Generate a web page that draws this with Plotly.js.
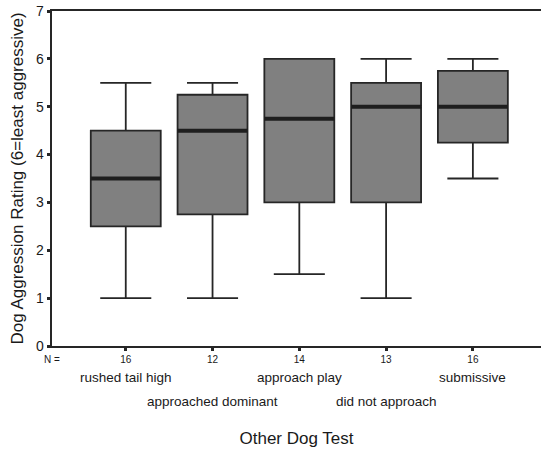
<!DOCTYPE html>
<html><head><meta charset="utf-8">
<script src="https://cdn.plot.ly/plotly-3.0.1.min.js"></script>
<style>html,body{margin:0;padding:0;background:#fff;}#chart{width:541px;height:456px;}</style>
</head><body><div id="chart"></div>
<script>
const categories = ["rushed tail high","approached dominant","approach play","did not approach","submissive"];
const nValues = [16, 12, 14, 13, 16];
const lowerWhisker = [1, 1, 1.5, 1, 3.5];
const q1 = [2.5, 2.75, 3, 3, 4.25];
const median = [3.5, 4.5, 4.75, 5, 5];
const q3 = [4.5, 5.25, 6, 5.5, 5.75];
const upperWhisker = [5.5, 5.5, 6, 6, 6];
const yTicks = [0,1,2,3,4,5,6,7];

const xs = categories.map((c,i)=>i);
const boxW = 0.806;
const ink = '#262626';

const boxTrace = {
  type: 'box', x: xs, q1: q1, median: median, q3: q3,
  lowerfence: lowerWhisker, upperfence: upperWhisker,
  width: boxW, whiskerwidth: 0.73,
  fillcolor: '#808080', line: {color: ink, width: 1.8},
  boxpoints: false, hoverinfo: 'skip', showlegend: false
};
const mx = [], my = [];
xs.forEach((x,i)=>{ mx.push(x-boxW/2, x+boxW/2, null); my.push(median[i], median[i], null); });
const medTrace = {type:'scatter', mode:'lines', x: mx, y: my, line:{color:'#1e1e1e', width:4}, showlegend:false, hoverinfo:'skip'};

const font = 'Liberation Sans, Arial, sans-serif';
const annotations = categories.map((c,i)=>({
  text: c, x: i, xref: 'x', y: i%2===0 ? -0.0955 : -0.167, yref: 'paper',
  yanchor: 'middle', xanchor: 'center', showarrow: false,
  font: {family: font, size: 13.5, color: '#1a1a1a'}
}));
annotations.push({text:'N =', x:0.001, xref:'paper', xanchor:'center', y:-0.04, yref:'paper', yanchor:'middle', showarrow:false, font:{family:font, size:10, color:'#1a1a1a'}});

const layout = {
  width: 541, height: 456,
  margin: {l: 52, r: 0, t: 11, b: 110},
  paper_bgcolor: '#fff', plot_bgcolor: '#fff',
  showlegend: false,
  xaxis: {
    range: [-0.85, 4.785], tickvals: xs, ticktext: nValues.map(String),
    showgrid: false, zeroline: false, showline: true, linecolor: ink, linewidth: 2,
    mirror: true, ticks: 'outside', ticklen: 3, tickwidth: 3, tickcolor: ink,
    tickfont: {family: font, size: 10, color: '#1a1a1a'},
    title: {text: 'Other Dog Test', font: {family: font, size: 17, color: '#1a1a1a'}, standoff: 68}
  },
  yaxis: {
    range: [0, 7], tickvals: yTicks, ticktext: yTicks.map(String),
    showgrid: false, zeroline: false, showline: true, linecolor: ink, linewidth: 2.5,
    ticks: 'outside', ticklen: 3, tickwidth: 3, tickcolor: ink,
    tickfont: {family: font, size: 14, color: '#1a1a1a'},
    title: {text: 'Dog Aggression Rating (6=least aggressive)', font: {family: font, size: 17, color: '#1a1a1a'}, standoff: 8}
  },
  annotations: annotations
};
Plotly.newPlot('chart', [boxTrace, medTrace], layout, {staticPlot: true, displayModeBar: false});
</script></body></html>
